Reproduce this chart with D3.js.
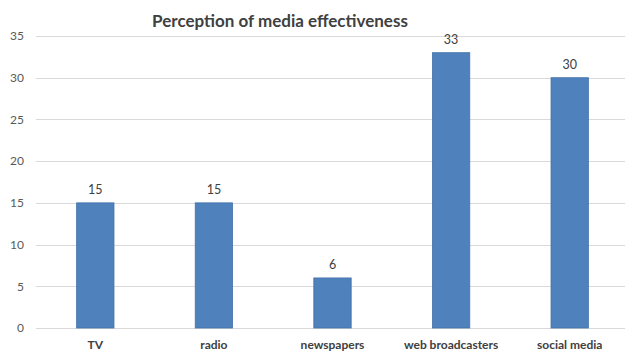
<!DOCTYPE html>
<html>
<head>
<meta charset="utf-8">
<script src="https://cdn.jsdelivr.net/npm/d3@7"></script>
<style>
  html, body { margin: 0; padding: 0; background: #fff; }
  svg { display: block; font-family: Lato, "Open Sans", sans-serif; }
</style>
</head>
<body>
<svg id="chart" width="625" height="354"></svg>
<script>
// Survey responses per media channel
const categories = ["TV", "radio", "newspapers", "web broadcasters", "social media"];
const values = [15, 15, 6, 33, 30];
const yTicks = [0, 5, 10, 15, 20, 25, 30, 35];
const title = "Perception of media effectiveness";

const svg = d3.select("#chart");
const margin = { left: 36, right: -4, top: 36, bottom: 26 };
const W = 625, H = 354;

const x = d3.scaleBand()
  .domain(categories)
  .range([margin.left, W - margin.right])
  .paddingInner(0.685)
  .paddingOuter(0.3425);

const y = d3.scaleLinear()
  .domain([0, 35])
  .range([H - margin.bottom, margin.top]);

// Horizontal gridlines
svg.append("g")
  .selectAll("line")
  .data(yTicks)
  .join("line")
  .attr("x1", margin.left)
  .attr("x2", W)
  .attr("y1", d => Math.round(y(d)) + 0.5)
  .attr("y2", d => Math.round(y(d)) + 0.5)
  .attr("stroke", "#d9d9d9")
  .attr("stroke-width", 1);

// Y-axis tick labels
const yAxis = d3.axisLeft(y).tickValues(yTicks).tickSize(0).tickPadding(0);
const gy = svg.append("g")
  .attr("transform", `translate(${margin.left - 12},0)`)
  .call(yAxis);
gy.select(".domain").remove();
gy.selectAll("text")
  .attr("fill", "#595959")
  .attr("font-size", 12)
  .attr("font-family", "Lato, sans-serif");

// Bars
svg.append("g")
  .selectAll("rect")
  .data(values)
  .join("rect")
  .attr("x", (d, i) => x(categories[i]))
  .attr("y", d => y(d))
  .attr("width", x.bandwidth())
  .attr("height", d => y(0) - y(d))
  .attr("fill", "#4f81bd")
  .attr("stroke", "#4472a8")
  .attr("stroke-width", 0.8);

// Value labels above bars
svg.append("g")
  .selectAll("text")
  .data(values)
  .join("text")
  .attr("x", (d, i) => x(categories[i]) + x.bandwidth() / 2)
  .attr("y", d => y(d) - 9)
  .attr("text-anchor", "middle")
  .attr("fill", "#404040")
  .attr("font-size", 12.5)
  .text(d => d);

// X-axis category labels
const xAxis = d3.axisBottom(x).tickSize(0).tickPadding(0);
const gx = svg.append("g")
  .attr("transform", `translate(0,${H - margin.bottom + 12})`)
  .call(xAxis);
gx.select(".domain").remove();
gx.selectAll("text")
  .attr("fill", "#404040")
  .attr("font-size", 12)
  .attr("font-weight", "bold")
  .attr("font-family", "Lato, sans-serif");

// Title
svg.append("text")
  .attr("x", 280)
  .attr("y", 27)
  .attr("text-anchor", "middle")
  .attr("fill", "#404040")
  .attr("font-size", 17)
  .attr("font-weight", "bold")
  .text(title);
</script>
</body>
</html>
